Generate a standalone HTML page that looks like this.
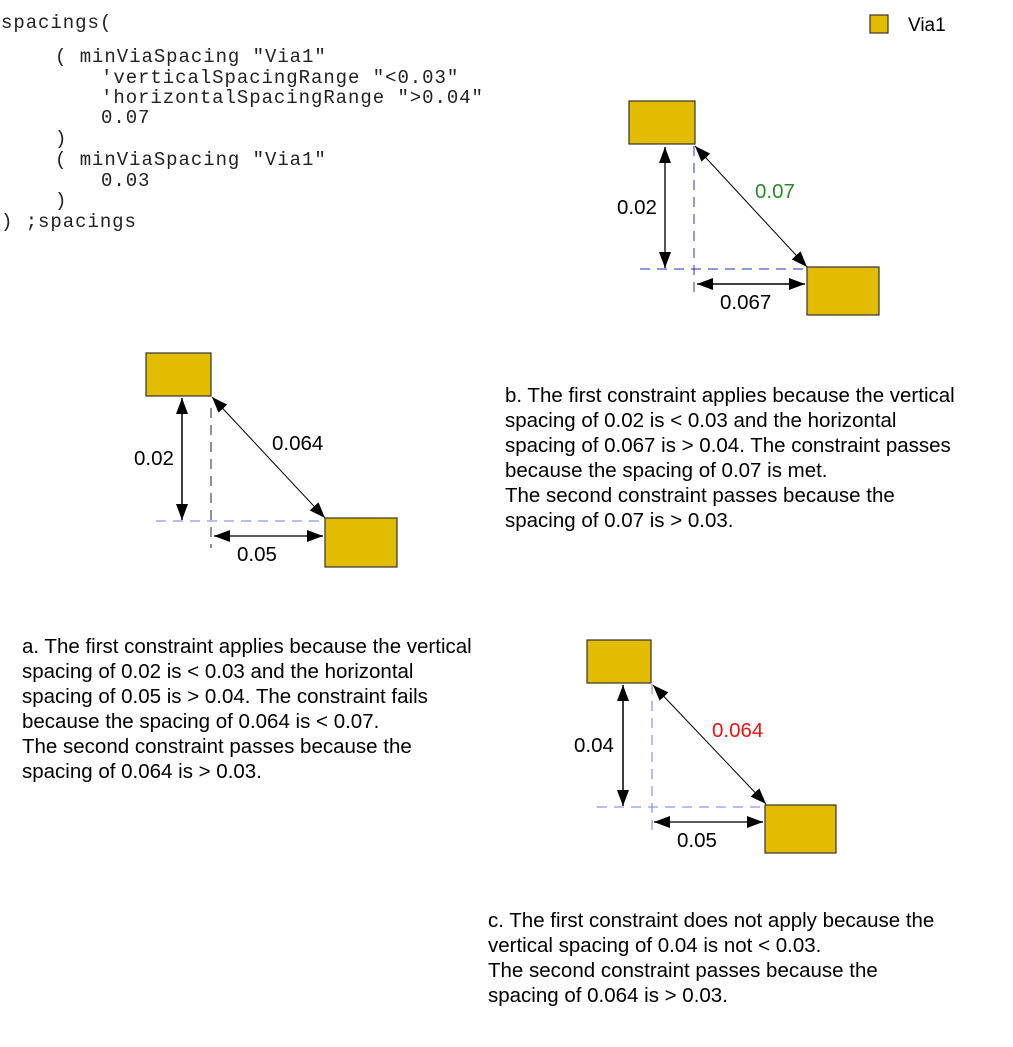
<!DOCTYPE html>
<html><head><meta charset="utf-8"><style>
html,body{margin:0;padding:0;background:#fff;}
svg{display:block;}
text{white-space:pre;}
.code{font-family:"Liberation Mono",monospace;font-size:19px;letter-spacing:0.95px;fill:#222;}
.t{font-family:"Liberation Sans",sans-serif;font-size:20.5px;fill:#000;}
.r{fill:#e2bc00;stroke:#333;stroke-width:1.2;}
</style></head><body>
<svg width="1013" height="1047" viewBox="0 0 1013 1047" xmlns="http://www.w3.org/2000/svg" xml:space="preserve">
<defs>
<marker id="ah" viewBox="0 0 16 12" refX="16" refY="6" markerWidth="16" markerHeight="12" markerUnits="userSpaceOnUse" orient="auto-start-reverse">
<path d="M0,0 L16,6 L0,12 z" fill="#000"/></marker>
</defs>
<g class="code">
<text x="1" y="28">spacings(</text>
<text x="55" y="62">( minViaSpacing "Via1"</text>
<text x="101" y="83">'verticalSpacingRange "&lt;0.03"</text>
<text x="101" y="103">'horizontalSpacingRange "&gt;0.04"</text>
<text x="101" y="123">0.07</text>
<text x="55" y="144">)</text>
<text x="55" y="165">( minViaSpacing "Via1"</text>
<text x="101" y="186">0.03</text>
<text x="55" y="206">)</text>
<text x="1" y="227">) ;spacings</text>
</g>
<rect x="870" y="15" width="18" height="18" class="r"/>
<text x="908" y="31" class="t" style="font-size:19px">Via1</text>

<!-- b -->
<rect x="629" y="101" width="66" height="43" class="r"/>
<rect x="807" y="267" width="72" height="48" class="r"/>
<line x1="694" y1="146" x2="694" y2="298" stroke="#2233dd" stroke-dasharray="10,7"/>
<line x1="640" y1="269" x2="807" y2="269" stroke="#2233aa" stroke-dasharray="10,7"/>
<line x1="665" y1="147" x2="665" y2="268" stroke="#444" stroke-width="1.8" marker-start="url(#ah)" marker-end="url(#ah)"/>
<line x1="697" y1="284" x2="805" y2="284" stroke="#000" stroke-width="1.5" marker-start="url(#ah)" marker-end="url(#ah)"/>
<line x1="695" y1="146" x2="807" y2="267" stroke="#000" stroke-width="1" marker-start="url(#ah)" marker-end="url(#ah)"/>
<text x="617" y="214" class="t">0.02</text>
<text x="755" y="198" class="t" style="fill:#2a8a2a">0.07</text>
<text x="720" y="309" class="t">0.067</text>

<!-- a -->
<rect x="146" y="353" width="65" height="43" class="r"/>
<rect x="325" y="518" width="72" height="49" class="r"/>
<line x1="211" y1="408" x2="211" y2="548" stroke="#223" stroke-dasharray="10,7"/>
<line x1="156" y1="521" x2="325" y2="521" stroke="#7777ee" stroke-dasharray="10,7"/>
<line x1="182" y1="398" x2="182" y2="520" stroke="#000" stroke-width="1.5" marker-start="url(#ah)" marker-end="url(#ah)"/>
<line x1="214" y1="536" x2="323" y2="536" stroke="#444" stroke-width="1.8" marker-start="url(#ah)" marker-end="url(#ah)"/>
<line x1="212" y1="397" x2="325" y2="518" stroke="#000" stroke-width="1" marker-start="url(#ah)" marker-end="url(#ah)"/>
<text x="134" y="465" class="t">0.02</text>
<text x="272" y="450" class="t">0.064</text>
<text x="237" y="561" class="t">0.05</text>

<!-- c -->
<rect x="587" y="640" width="64" height="43" class="r"/>
<rect x="765" y="805" width="71" height="48" class="r"/>
<line x1="652" y1="684" x2="652" y2="836" stroke="#7777ee" stroke-dasharray="10,7"/>
<line x1="597" y1="807" x2="765" y2="807" stroke="#7777ee" stroke-dasharray="10,7"/>
<line x1="623" y1="685" x2="623" y2="806" stroke="#000" stroke-width="1.5" marker-start="url(#ah)" marker-end="url(#ah)"/>
<line x1="654" y1="822" x2="763" y2="822" stroke="#444" stroke-width="1.8" marker-start="url(#ah)" marker-end="url(#ah)"/>
<line x1="653" y1="685" x2="766" y2="804" stroke="#000" stroke-width="1" marker-start="url(#ah)" marker-end="url(#ah)"/>
<text x="574" y="752" class="t">0.04</text>
<text x="712" y="737" class="t" style="fill:#ee1111">0.064</text>
<text x="677" y="847" class="t">0.05</text>

<g class="t">
<text x="505" y="402">b. The first constraint applies because the vertical</text>
<text x="505" y="427">spacing of 0.02 is &lt; 0.03 and the horizontal</text>
<text x="505" y="452">spacing of 0.067 is &gt; 0.04. The constraint passes</text>
<text x="505" y="477">because the spacing of 0.07 is met.</text>
<text x="505" y="502">The second constraint passes because the</text>
<text x="505" y="527">spacing of 0.07 is &gt; 0.03.</text>

<text x="22" y="653">a. The first constraint applies because the vertical</text>
<text x="22" y="678">spacing of 0.02 is &lt; 0.03 and the horizontal</text>
<text x="22" y="703">spacing of 0.05 is &gt; 0.04. The constraint fails</text>
<text x="22" y="728">because the spacing of 0.064 is &lt; 0.07.</text>
<text x="22" y="753">The second constraint passes because the</text>
<text x="22" y="778">spacing of 0.064 is &gt; 0.03.</text>

<text x="488" y="927">c. The first constraint does not apply because the</text>
<text x="488" y="952">vertical spacing of 0.04 is not &lt; 0.03.</text>
<text x="488" y="977">The second constraint passes because the</text>
<text x="488" y="1002">spacing of 0.064 is &gt; 0.03.</text>
</g>
</svg>
</body></html>
